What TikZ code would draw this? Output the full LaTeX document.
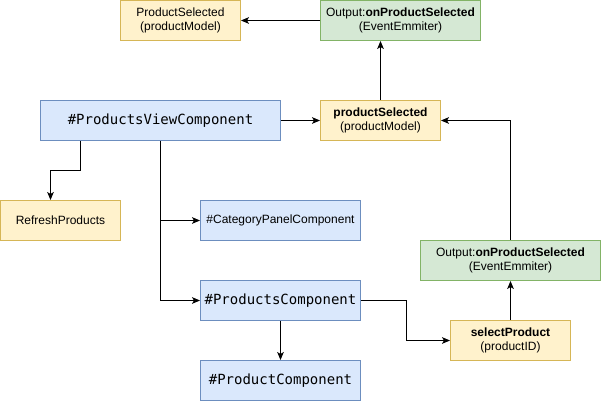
\documentclass[tikz,border=0pt]{standalone}
\usepackage{fontspec}
\setmainfont{Liberation Sans}
\setmonofont{DejaVu Sans Mono}
\usetikzlibrary{positioning,arrows.meta}

\definecolor{ylwfill}{HTML}{FFF2CC}
\definecolor{ylwline}{HTML}{D6B656}
\definecolor{bluefill}{HTML}{DAE8FC}
\definecolor{blueline}{HTML}{6C8EBF}
\definecolor{grnfill}{HTML}{D5E8D4}
\definecolor{grnline}{HTML}{82B366}

\begin{document}
\begin{tikzpicture}[x=0.75pt, y=-0.75pt,
    box/.style={draw, line width=0.75pt, inner sep=0pt, align=center,
        minimum height=30pt, font=\fontsize{9}{10.5}\selectfont},
    ylwbox/.style={box, fill=ylwfill, draw=ylwline},
    bluebox/.style={box, fill=bluefill, draw=blueline},
    grnbox/.style={box, fill=grnfill, draw=grnline},
    mono/.style={font=\ttfamily\fontsize{10.5}{12}\selectfont},
    arr/.style={line width=0.75pt, -{Stealth[length=6pt, width=5pt, inset=1.5pt]}}]
    \useasboundingbox (-0.5,-0.5) rectangle (600.5,401.5);

    \node[ylwbox, minimum width=90pt] (modelout) at (180,20) {ProductSelected\\(productModel)};
    \node[grnbox, minimum width=120pt] (outtop) at (400,20) {Output:\textbf{onProductSelected}\\(EventEmmiter)};
    \node[bluebox, mono, minimum width=180pt] (pview) at (160,120) {\#ProductsViewComponent};
    \node[ylwbox, minimum width=90pt] (selected) at (380,120) {\textbf{productSelected}\\(productModel)};
    \node[ylwbox, minimum width=90pt] (refresh) at (60,220) {RefreshProducts};
    \node[bluebox, minimum width=120pt] (catpanel) at (280,220) {\#CategoryPanelComponent};
    \node[grnbox, minimum width=135pt] (outmid) at (510,260) {Output:\textbf{onProductSelected}\\(EventEmmiter)};
    \node[bluebox, mono, minimum width=120pt] (pcomp) at (280,300) {\#ProductsComponent};
    \node[ylwbox, minimum width=90pt] (selprod) at (510,340) {\textbf{selectProduct}\\(productID)};
    \node[bluebox, mono, minimum width=120pt] (prodcomp) at (280,380) {\#ProductComponent};

    \draw[arr] (outtop.west) -- (modelout.east);
    \draw[arr] (pview.east) -- (selected.west);
    \draw[arr] (selected.north) -- (selected.north |- outtop.south);
    \draw[arr] ([xshift=30pt]pview.south west) -- ++(0,30) -| ([xshift=-7.5pt]refresh.north);
    \draw[arr] ([xshift=90pt]pview.south west) |- (catpanel.west);
    \draw[arr] ([xshift=90pt]pview.south west) |- (pcomp.west);
    \draw[arr] (pcomp.south) -- (prodcomp.north);
    \draw[arr] (pcomp.east) -- ++(45,0) |- (selprod.west);
    \draw[arr] (selprod.north) -- (outmid.south);
    \draw[arr] (outmid.north) |- (selected.east);
\end{tikzpicture}
\end{document}
